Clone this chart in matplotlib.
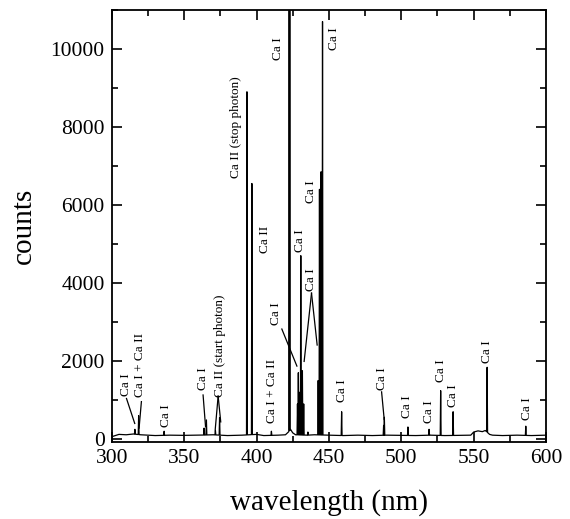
import numpy as np
import matplotlib
matplotlib.use("Agg")
import matplotlib.pyplot as plt
from matplotlib.ticker import MultipleLocator

# Fond continu du spectre (nm, coups)
base_wl = [300, 305, 310, 315, 320, 325, 330, 340, 350, 360, 370, 380, 390, 400,
           405, 415, 420, 422, 423.5, 425, 427, 435, 440, 450, 460, 470, 480, 490,
           500, 510, 520, 530, 540, 548, 550, 553, 556, 558, 561, 563, 570, 580,
           590, 600]
base_counts = [60, 120, 110, 130, 110, 100, 90, 100, 95, 100, 110, 90, 100, 120,
               90, 100, 110, 180, 250, 160, 110, 100, 110, 100, 90, 100, 90, 100,
               95, 90, 100, 90, 95, 100, 180, 210, 190, 220, 120, 100, 90, 100,
               90, 100]

# Raies (nm, coups au sommet)
line_wl = [316.0, 318.6, 336.2, 363.8, 365.4, 371.6, 374.5, 393.4, 396.8, 410.3,
           422.7, 428.3, 428.9, 429.9, 430.6, 431.7, 432.6, 435.5, 442.6, 443.5,
           444.6, 445.6, 458.8, 487.8, 488.3, 504.6, 519.2, 527.2, 535.8, 559.3,
           586.0]
line_counts = [250, 600, 200, 280, 490, 230, 550, 8900, 6550, 200,
               12000, 900, 1700, 1200, 4700, 1750, 900, 180, 1500, 6400,
               6850, 10700, 700, 350, 560, 310, 250, 1240, 700, 1840,
               330]

# Etiquettes : texte, centre (nm), bas du texte (coups)
label_text = ["Ca I", "Ca I + Ca II", "Ca I", "Ca I", "Ca II (start photon)",
              "Ca II (stop photon)", "Ca II", "Ca I", "Ca I", "Ca I + Ca II",
              "Ca I", "Ca I", "Ca I", "Ca I", "Ca I", "Ca I", "Ca I", "Ca I",
              "Ca I", "Ca I", "Ca I", "Ca I"]
label_wl = [310.2, 319.6, 337.3, 362.9, 375.0, 385.7, 405.8, 415.0, 453.4, 410.9,
            413.7, 437.6, 430.2, 437.4, 458.8, 486.4, 504.2, 519.1, 527.1, 536.0,
            559.5, 586.9]
label_counts = [1100, 1080, 320, 1270, 1080, 6690, 4770, 9720, 9970, 420,
                2920, 3800, 4800, 6050, 950, 1260, 540, 420, 1460, 820,
                1950, 490]

# Traits de rappel : (nm debut, coups debut, nm fin, coups fin)
pointers = [
    (310.2, 1040, 315.9, 400),
    (320.5, 960, 318.9, 280),
    (363.1, 1130, 364.8, 320),
    (373.5, 1100, 371.5, 250),
    (373.5, 1100, 375.3, 440),
    (417.5, 2820, 427.9, 1870),
    (438.0, 3740, 432.9, 1990),
    (438.0, 3740, 441.9, 2410),
    (486.4, 1210, 488.2, 505),
]

# Construction du trace : raies etroites posees sur le fond
half = 0.3
x = list(base_wl)
y = list(base_counts)
for wl, h in zip(line_wl, line_counts):
    for dx in (-half, half):
        x.append(wl + dx)
        y.append(np.interp(wl + dx, base_wl, base_counts))
    x.append(wl)
    y.append(h)
order = np.argsort(x)
x = np.array(x)[order]
y = np.array(y)[order]

plt.rcParams['font.family'] = ['Liberation Serif', 'DejaVu Serif']

fig = plt.figure(figsize=(5.70, 5.19), dpi=100)
ax = fig.add_axes([0.196, 0.148, 0.762, 0.833])

ax.plot(x, y, color='black', linewidth=0.9)
# la raie saturee a 422.7 nm parait plus epaisse
ax.plot([line_wl[10], line_wl[10]], [base_counts[18], line_counts[10]],
        color='black', linewidth=1.8)

for t, wl, c in zip(label_text, label_wl, label_counts):
    ax.text(wl, c, t, rotation=90, ha='center', va='bottom', fontsize=9.5)

for x0, y0, x1, y1 in pointers:
    ax.plot([x0, x1], [y0, y1], color='black', linewidth=0.9)

ax.set_xlim(300, 600)
ax.set_ylim(-80, 11000)
ax.xaxis.set_major_locator(MultipleLocator(50))
ax.xaxis.set_minor_locator(MultipleLocator(25))
ax.yaxis.set_major_locator(MultipleLocator(2000))
ax.yaxis.set_minor_locator(MultipleLocator(1000))
ax.tick_params(which='both', direction='in', top=True, right=True,
               labelsize=15.5, width=1.2)
ax.tick_params(which='major', length=7, pad=5)
ax.tick_params(which='minor', length=4)
for s in ax.spines.values():
    s.set_linewidth(1.3)

ax.set_xlabel('wavelength (nm)', fontsize=21, labelpad=15)
ax.set_ylabel('counts', fontsize=21, labelpad=10)

fig.savefig('out.png', dpi=100)
